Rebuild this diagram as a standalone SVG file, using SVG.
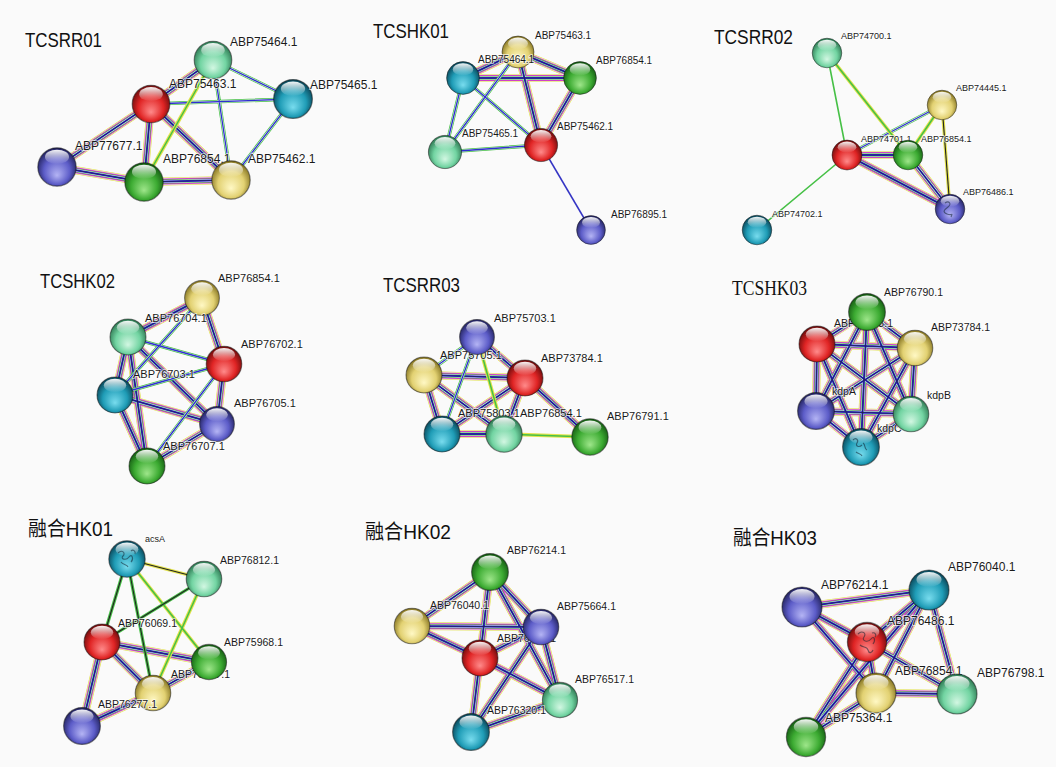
<svg xmlns="http://www.w3.org/2000/svg" xmlns:xlink="http://www.w3.org/1999/xlink" width="1056" height="767" viewBox="0 0 1056 767">
<style>
.bg{fill:#fafafa}
.t{font-family:"Liberation Sans",Arial,sans-serif;font-size:21px;fill:#111}
.tc{font-family:"Liberation Sans","Noto Sans CJK SC",sans-serif;font-size:20px;fill:#111}
.ts{font-family:"Liberation Serif","Times New Roman",serif;font-size:20px;fill:#111}
.lb{font-family:"Liberation Sans",Arial,sans-serif;fill:#1a1a1a;stroke:#ffffff;stroke-opacity:.75;stroke-width:1.6;paint-order:stroke}
.s9{font-size:9px}.s10{font-size:10px}.s105{font-size:10.5px}.s11{font-size:11px}.s12{font-size:12px}
.e{fill:none}
.m1{stroke:#e0e040;stroke-width:8}
.m2{stroke:#f2f2e8;stroke-width:6.9}
.m3{stroke:#d040c8;stroke-width:6}
.m4{stroke:#3cb83c;stroke-width:4.1}
.m5{stroke:#ececf4;stroke-width:2.9}
.m6{stroke:#2a2ad0;stroke-width:2}
.m7{stroke:#202040;stroke-width:0.7}
.gb1{stroke:#46c046;stroke-width:3.6}
.gb0{stroke:#eef4ee;stroke-width:2.2}
.gb2{stroke:#2f2fd0;stroke-width:1.3}
.gy1{stroke:#e2e24a;stroke-width:3.6}
.gy2{stroke:#46c046;stroke-width:1.5}
.ky1{stroke:#e2e24a;stroke-width:3.2}
.ky2{stroke:#222222;stroke-width:1.1}
.gk1{stroke:#46c046;stroke-width:3.2}
.gk2{stroke:#222222;stroke-width:1.1}
.sg{stroke:#46c046;stroke-width:1.6}
.sb{stroke:#3434c4;stroke-width:1.5}
.tex{fill:none;stroke:#102030;stroke-opacity:.55;stroke-width:1.1}
</style>
<defs>
<radialGradient id="gR" cx="0.5" cy="0.55" r="0.55" fx="0.5" fy="0.72">
<stop offset="0" stop-color="#ff8a8a"/><stop offset="0.62" stop-color="#e02424"/><stop offset="1" stop-color="#6a0c0c"/></radialGradient>
<radialGradient id="gG" cx="0.5" cy="0.55" r="0.55" fx="0.5" fy="0.72">
<stop offset="0" stop-color="#9ee68a"/><stop offset="0.62" stop-color="#3cab32"/><stop offset="1" stop-color="#145a12"/></radialGradient>
<radialGradient id="gM" cx="0.5" cy="0.55" r="0.55" fx="0.5" fy="0.72">
<stop offset="0" stop-color="#d2f7e2"/><stop offset="0.62" stop-color="#72d4a2"/><stop offset="1" stop-color="#2c7650"/></radialGradient>
<radialGradient id="gT" cx="0.5" cy="0.55" r="0.55" fx="0.5" fy="0.72">
<stop offset="0" stop-color="#78dcee"/><stop offset="0.62" stop-color="#1f9cb6"/><stop offset="1" stop-color="#0a4456"/></radialGradient>
<radialGradient id="gB" cx="0.5" cy="0.55" r="0.55" fx="0.5" fy="0.72">
<stop offset="0" stop-color="#b4b4f4"/><stop offset="0.62" stop-color="#5c5cc8"/><stop offset="1" stop-color="#22225c"/></radialGradient>
<radialGradient id="gY" cx="0.5" cy="0.55" r="0.55" fx="0.5" fy="0.72">
<stop offset="0" stop-color="#fff8c4"/><stop offset="0.62" stop-color="#e2d172"/><stop offset="1" stop-color="#837220"/></radialGradient>
<linearGradient id="hl" x1="0" y1="0" x2="0" y2="1">
<stop offset="0" stop-color="#ffffff" stop-opacity="0.95"/><stop offset="1" stop-color="#ffffff" stop-opacity="0"/></linearGradient>
<g id="sph"><circle r="20" stroke="#111" stroke-opacity="0.5" stroke-width="1.2"/><ellipse cy="-10.5" rx="12.5" ry="7.5" fill="url(#hl)"/></g>

<path id="p1m" d="M151 104L213 60M151 104L57 167M151 104L231 180M57 167L144 182M144 182L231 180M151 104L144 182"/>
<path id="p1gb" d="M213 60L293 99M151 104L293 99M293 99L231 180M213 60L231 180"/>
<path id="p1gy" d="M213 60L144 182"/>

<path id="p2m" d="M518 52L463 78M518 52L580 78M463 78L580 78M518 52L541 145M580 78L541 145"/>
<path id="p2gb" d="M463 78L541 145M463 78L445 152M445 152L541 145M518 52L445 152"/>
<path id="p2sb" d="M541 145L591 230"/>

<path id="p3m" d="M847 155L908 155M847 155L950 209M908 155L950 209"/>
<path id="p3gb" d="M942 105L847 155"/>
<path id="p3gy" d="M942 105L908 155M827 53L908 155"/>
<path id="p3ky" d="M942 105L950 209"/>
<path id="p3sg" d="M827 53L847 155M847 155L757 230"/>

<path id="p4m" d="M202 298L128 337M202 298L224 364M128 337L115 395M128 337L217 424M128 337L147 466M115 395L217 424M115 395L147 466M224 364L217 424M217 424L147 466"/>
<path id="p4gb" d="M202 298L115 395M128 337L224 364M115 395L224 364M224 364L147 466"/>

<path id="p5m" d="M477 337L525 378M424 375L525 378M424 375L442 434M424 375L504 434M525 378L442 434M525 378L504 434M525 378L590 437M442 434L504 434"/>
<path id="p5gb" d="M477 337L442 434M477 337L424 375"/>
<path id="p5gy" d="M504 434L590 437M477 337L504 434"/>

<path id="p6m" d="M867 312L817 344M867 312L915 348M867 312L816 411M867 312L911 414M867 312L861 447M817 344L915 348M817 344L816 411M817 344L911 414M817 344L861 447M915 348L816 411M915 348L911 414M915 348L861 447M816 411L911 414M816 411L861 447M911 414L861 447"/>

<path id="p7m" d="M102 642L209 662M102 642L153 693M102 642L82 726M153 693L82 726M153 693L209 662"/>
<path id="p7ky" d="M127 559L204 579"/>
<path id="p7gk" d="M127 559L102 642M127 559L153 693M204 579L102 642"/>
<path id="p7gy" d="M127 559L209 662M204 579L153 693"/>

<path id="p8m" d="M490 572L412 626M490 572L541 627M490 572L480 658M490 572L560 700M412 626L541 627M412 626L480 658M480 658L541 627M480 658L560 700M480 658L471 732M541 627L560 700M541 627L471 732M471 732L560 700"/>

<path id="p9m" d="M802 607L929 590M802 607L867 642M802 607L876 693M929 590L867 642M929 590L876 693M929 590L957 694M867 642L876 693M867 642L957 694M867 642L806 737M876 693L957 694M876 693L806 737M929 590L806 737"/>

<g id="allm"><use xlink:href="#p1m"/><use xlink:href="#p2m"/><use xlink:href="#p3m"/><use xlink:href="#p4m"/><use xlink:href="#p5m"/><use xlink:href="#p6m"/><use xlink:href="#p7m"/><use xlink:href="#p8m"/><use xlink:href="#p9m"/></g>
<g id="allgb"><use xlink:href="#p1gb"/><use xlink:href="#p2gb"/><use xlink:href="#p3gb"/><use xlink:href="#p4gb"/><use xlink:href="#p5gb"/></g>
<g id="allgy"><use xlink:href="#p1gy"/><use xlink:href="#p3gy"/><use xlink:href="#p5gy"/><use xlink:href="#p7gy"/></g>
<g id="allky"><use xlink:href="#p3ky"/><use xlink:href="#p7ky"/></g>
</defs>

<rect class="bg" width="1056" height="767"/>

<g id="connectors" class="e">
<use xlink:href="#allm" class="m1"/><use xlink:href="#allm" class="m2"/><use xlink:href="#allm" class="m3"/><use xlink:href="#allm" class="m4"/><use xlink:href="#allm" class="m5"/><use xlink:href="#allm" class="m6"/><use xlink:href="#allm" class="m7"/>
<use xlink:href="#allgb" class="gb1"/><use xlink:href="#allgb" class="gb0"/><use xlink:href="#allgb" class="gb2"/>
<use xlink:href="#allgy" class="gy1"/><use xlink:href="#allgy" class="gy2"/>
<use xlink:href="#allky" class="ky1"/><use xlink:href="#allky" class="ky2"/>
<use xlink:href="#p7gk" class="gk1"/><use xlink:href="#p7gk" class="gk2"/>
<use xlink:href="#p3sg" class="sg"/>
<use xlink:href="#p2sb" class="sb"/>
</g>

<g id="panel1" class="s12">
<text class="t" x="25" y="47" textLength="77" lengthAdjust="spacingAndGlyphs">TCSRR01</text>
<g id="p1-ABP75464"><use xlink:href="#sph" fill="url(#gM)" transform="translate(213 60) scale(.94)"/><text class="lb" x="230" y="46">ABP75464.1</text></g>
<g id="p1-ABP75465"><use xlink:href="#sph" fill="url(#gT)" transform="translate(293 99) scale(.97)"/><text class="lb" x="310" y="89">ABP75465.1</text></g>
<g id="p1-ABP77677"><use xlink:href="#sph" fill="url(#gB)" transform="translate(57 167) scale(.96)"/><text class="lb" x="75" y="150">ABP77677.1</text></g>
<g id="p1-ABP76854"><use xlink:href="#sph" fill="url(#gG)" transform="translate(144 182) scale(.96)"/><text class="lb" x="163" y="163">ABP76854.1</text></g>
<g id="p1-ABP75462"><use xlink:href="#sph" fill="url(#gY)" transform="translate(231 180) scale(.96)"/><text class="lb" x="248" y="163">ABP75462.1</text></g>
<g id="p1-ABP75463"><use xlink:href="#sph" fill="url(#gR)" transform="translate(151 104) scale(.94)"/><text class="lb" x="169" y="88">ABP75463.1</text></g>
</g>

<g id="panel2" class="s10">
<text class="t" x="373" y="38" textLength="76" lengthAdjust="spacingAndGlyphs">TCSHK01</text>
<g id="p2-ABP75463"><use xlink:href="#sph" fill="url(#gY)" transform="translate(518 52) scale(.8)"/><text class="lb" x="535" y="39">ABP75463.1</text></g>
<g id="p2-ABP75464"><use xlink:href="#sph" fill="url(#gT)" transform="translate(463 78) scale(.82)"/><text class="lb" x="478" y="63">ABP75464.1</text></g>
<g id="p2-ABP76854"><use xlink:href="#sph" fill="url(#gG)" transform="translate(580 78) scale(.82)"/><text class="lb" x="596" y="64">ABP76854.1</text></g>
<g id="p2-ABP75465"><use xlink:href="#sph" fill="url(#gM)" transform="translate(445 152) scale(.83)"/><text class="lb" x="462" y="137">ABP75465.1</text></g>
<g id="p2-ABP75462"><use xlink:href="#sph" fill="url(#gR)" transform="translate(541 145) scale(.83)"/><text class="lb" x="557" y="130">ABP75462.1</text></g>
<g id="p2-ABP76895"><use xlink:href="#sph" fill="url(#gB)" transform="translate(591 230) scale(.72)"/><text class="lb" x="611" y="218">ABP76895.1</text></g>
</g>

<g id="panel3" class="s9">
<text class="t" x="714" y="44" textLength="79" lengthAdjust="spacingAndGlyphs">TCSRR02</text>
<g id="p3-ABP74700"><use xlink:href="#sph" fill="url(#gM)" transform="translate(827 53) scale(.74)"/><text class="lb" x="841" y="39">ABP74700.1</text></g>
<g id="p3-ABP74445"><use xlink:href="#sph" fill="url(#gY)" transform="translate(942 105) scale(.74)"/><text class="lb" x="956" y="91">ABP74445.1</text></g>
<g id="p3-ABP74701"><use xlink:href="#sph" fill="url(#gR)" transform="translate(847 155) scale(.75)"/><text class="lb" x="861" y="142">ABP74701.1</text></g>
<g id="p3-ABP76854"><use xlink:href="#sph" fill="url(#gG)" transform="translate(908 155) scale(.74)"/><text class="lb" x="921" y="142">ABP76854.1</text></g>
<g id="p3-ABP76486"><use xlink:href="#sph" fill="url(#gB)" transform="translate(950 209) scale(.74)"/><path class="tex" d="M945 203c4-3 7 1 3 4s-6 5-1 7 6-2 4 3"/><text class="lb" x="963" y="195">ABP76486.1</text></g>
<g id="p3-ABP74702"><use xlink:href="#sph" fill="url(#gT)" transform="translate(757 230) scale(.74)"/><text class="lb" x="772" y="217">ABP74702.1</text></g>
</g>

<g id="panel4" class="s11">
<text class="t" x="40" y="288" textLength="75" lengthAdjust="spacingAndGlyphs">TCSHK02</text>
<g id="p4-ABP76854"><use xlink:href="#sph" fill="url(#gY)" transform="translate(202 298) scale(.87)"/><text class="lb" x="218" y="282">ABP76854.1</text></g>
<g id="p4-ABP76704"><use xlink:href="#sph" fill="url(#gM)" transform="translate(128 337) scale(.9)"/><text class="lb" x="145" y="322">ABP76704.1</text></g>
<g id="p4-ABP76702"><use xlink:href="#sph" fill="url(#gR)" transform="translate(224 364) scale(.89)"/><text class="lb" x="241" y="348">ABP76702.1</text></g>
<g id="p4-ABP76703"><use xlink:href="#sph" fill="url(#gT)" transform="translate(115 395) scale(.9)"/><text class="lb" x="133" y="378">ABP76703.1</text></g>
<g id="p4-ABP76705"><use xlink:href="#sph" fill="url(#gB)" transform="translate(217 424) scale(.87)"/><text class="lb" x="234" y="407">ABP76705.1</text></g>
<g id="p4-ABP76707"><use xlink:href="#sph" fill="url(#gG)" transform="translate(147 466) scale(.9)"/><text class="lb" x="163" y="450">ABP76707.1</text></g>
</g>

<g id="panel5" class="s11">
<text class="t" x="383" y="292" textLength="77" lengthAdjust="spacingAndGlyphs">TCSRR03</text>
<g id="p5-ABP75705"><use xlink:href="#sph" fill="url(#gY)" transform="translate(424 375) scale(.9)"/><text class="lb" x="440" y="359">ABP75705.1</text></g>
<g id="p5-ABP75703"><use xlink:href="#sph" fill="url(#gB)" transform="translate(477 337) scale(.87)"/><text class="lb" x="494" y="322">ABP75703.1</text></g>
<g id="p5-ABP73784"><use xlink:href="#sph" fill="url(#gR)" transform="translate(525 378) scale(.9)"/><text class="lb" x="541" y="362">ABP73784.1</text></g>
<g id="p5-ABP75803"><use xlink:href="#sph" fill="url(#gT)" transform="translate(442 434) scale(.9)"/><text class="lb" x="458" y="417">ABP75803.1</text></g>
<g id="p5-ABP76854"><use xlink:href="#sph" fill="url(#gM)" transform="translate(504 434) scale(.91)"/><text class="lb" x="520" y="417">ABP76854.1</text></g>
<g id="p5-ABP76791"><use xlink:href="#sph" fill="url(#gG)" transform="translate(590 437) scale(.91)"/><text class="lb" x="607" y="420">ABP76791.1</text></g>
</g>

<g id="panel6" class="s105">
<text class="ts" x="732" y="295" textLength="75" lengthAdjust="spacingAndGlyphs">TCSHK03</text>
<g id="p6-ABP76793"><use xlink:href="#sph" fill="url(#gR)" transform="translate(817 344) scale(.9)"/><text class="lb" x="834" y="327">ABP76793.1</text></g>
<g id="p6-ABP76790"><use xlink:href="#sph" fill="url(#gG)" transform="translate(867 312) scale(.92)"/><text class="lb" x="884" y="296">ABP76790.1</text></g>
<g id="p6-ABP73784"><use xlink:href="#sph" fill="url(#gY)" transform="translate(915 348) scale(.89)"/><text class="lb" x="931" y="331">ABP73784.1</text></g>
<g id="p6-kdpC"><use xlink:href="#sph" fill="url(#gT)" transform="translate(861 447) scale(.92)"/><path class="tex" d="M853 440c3-3 6 0 4 3s2 5 5 2M863 443c3 2 1 6 4 7M856 452c2 2 5 1 6 4"/><text class="lb" x="877" y="432">kdpC</text></g>
<g id="p6-kdpA"><use xlink:href="#sph" fill="url(#gB)" transform="translate(816 411) scale(.92)"/><text class="lb" x="832" y="395">kdpA</text></g>
<g id="p6-kdpB"><use xlink:href="#sph" fill="url(#gM)" transform="translate(911 414) scale(.89)"/><text class="lb" x="927" y="399">kdpB</text></g>
</g>

<g id="panel7" class="s105">
<text class="tc" x="28" y="536" textLength="85" lengthAdjust="spacingAndGlyphs">融合HK01</text>
<g id="p7-acsA"><use xlink:href="#sph" fill="url(#gT)" transform="translate(127 559) scale(.91)"/><path class="tex" d="M118 553c4-4 8 0 5 3s3 5 6 1 5 2 2 5M121 562c2 3 6 2 7 5M131 551c2-2 5 0 4 3"/><text class="lb s9" x="145" y="542">acsA</text></g>
<g id="p7-ABP76812"><use xlink:href="#sph" fill="url(#gM)" transform="translate(204 579) scale(.89)"/><text class="lb" x="220" y="564">ABP76812.1</text></g>
<g id="p7-ABP76069"><use xlink:href="#sph" fill="url(#gR)" transform="translate(102 642) scale(.9)"/><text class="lb" x="118" y="627">ABP76069.1</text></g>
<g id="p7-ABP76067"><use xlink:href="#sph" fill="url(#gY)" transform="translate(153 693) scale(.89)"/><text class="lb" x="171" y="678">ABP76067.1</text></g>
<g id="p7-ABP75968"><use xlink:href="#sph" fill="url(#gG)" transform="translate(209 662) scale(.88)"/><text class="lb" x="224" y="646">ABP75968.1</text></g>
<g id="p7-ABP76277"><use xlink:href="#sph" fill="url(#gB)" transform="translate(82 726) scale(.92)"/><text class="lb" x="98" y="708">ABP76277.1</text></g>
</g>

<g id="panel8" class="s105">
<text class="tc" x="365" y="539" textLength="86" lengthAdjust="spacingAndGlyphs">融合HK02</text>
<g id="p8-ABP76214"><use xlink:href="#sph" fill="url(#gG)" transform="translate(490 572) scale(.92)"/><text class="lb" x="507" y="554">ABP76214.1</text></g>
<g id="p8-ABP76040"><use xlink:href="#sph" fill="url(#gY)" transform="translate(412 626) scale(.89)"/><text class="lb" x="430" y="609">ABP76040.1</text></g>
<g id="p8-ABP76069"><use xlink:href="#sph" fill="url(#gR)" transform="translate(480 658) scale(.9)"/><text class="lb" x="497" y="642">ABP76069.1</text></g>
<g id="p8-ABP75664"><use xlink:href="#sph" fill="url(#gB)" transform="translate(541 627) scale(.89)"/><text class="lb" x="557" y="610">ABP75664.1</text></g>
<g id="p8-ABP76517"><use xlink:href="#sph" fill="url(#gM)" transform="translate(560 700) scale(.88)"/><text class="lb" x="575" y="683">ABP76517.1</text></g>
<g id="p8-ABP76320"><use xlink:href="#sph" fill="url(#gT)" transform="translate(471 732) scale(.92)"/><text class="lb" x="487" y="714">ABP76320.1</text></g>
</g>

<g id="panel9" class="s12">
<text class="tc" x="733" y="545" textLength="84" lengthAdjust="spacingAndGlyphs">融合HK03</text>
<g id="p9-ABP76214"><use xlink:href="#sph" fill="url(#gB)" transform="translate(802 607)"/><text class="lb" x="821" y="589">ABP76214.1</text></g>
<g id="p9-ABP76040"><use xlink:href="#sph" fill="url(#gT)" transform="translate(929 590)"/><text class="lb" x="948" y="571">ABP76040.1</text></g>
<g id="p9-ABP76486"><use xlink:href="#sph" fill="url(#gR)" transform="translate(867 642) scale(.98)"/><path class="tex" d="M858 634c4-4 9-1 6 3s4 6 7 2 5 1 2 5M860 645c3 3 7 1 8 5s4 3 5 0M872 633c3-1 5 2 3 4"/><text class="lb" x="887" y="625">ABP76486.1</text></g>
<g id="p9-ABP76854"><use xlink:href="#sph" fill="url(#gY)" transform="translate(876 693)"/><text class="lb" x="895" y="675">ABP76854.1</text></g>
<g id="p9-ABP76798"><use xlink:href="#sph" fill="url(#gM)" transform="translate(957 694)"/><text class="lb" x="977" y="677">ABP76798.1</text></g>
<g id="p9-ABP75364"><use xlink:href="#sph" fill="url(#gG)" transform="translate(806 737) scale(.98)"/><text class="lb" x="825" y="722">ABP75364.1</text></g>
</g>
</svg>
